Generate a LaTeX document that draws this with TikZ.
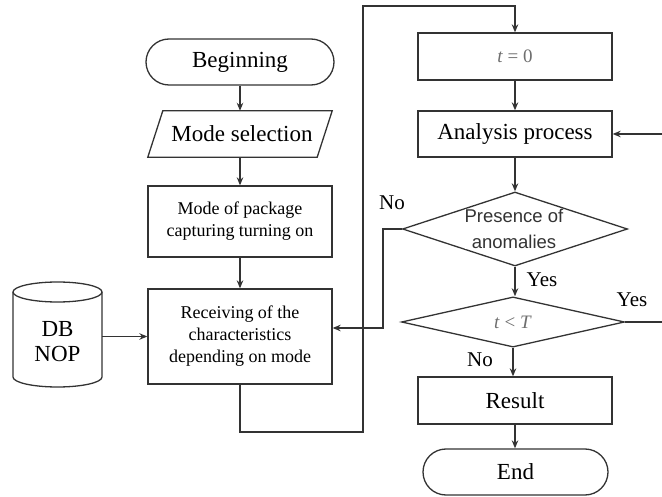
\documentclass[tikz,border=0pt]{standalone}
\usepackage{fontspec}
\setmainfont{Liberation Serif}
\newfontfamily\diafont{Liberation Sans}
\usetikzlibrary{shapes.geometric,arrows.meta}
\definecolor{ln}{HTML}{333333}
\definecolor{gt}{HTML}{6E6E6E}
\begin{document}
\begin{tikzpicture}[x=1pt,y=1pt,
  lw/.style={draw=ln,line width=1.3pt},
  big/.style={font=\fontsize{23}{27}\selectfont},
  small/.style={font=\fontsize{18}{22}\selectfont},
  box/.style={lw,fill=white,align=center,inner sep=0pt},
  term/.style={lw,fill=white,rounded corners=23pt,inner sep=0pt,font=\fontsize{23}{27}\selectfont},
  dia/.style={lw,diamond,fill=white,inner sep=0pt},
  arr/.style={lw,-{Stealth[length=8pt,width=6.5pt]}},
  lbl/.style={font=\fontsize{21}{24}\selectfont,inner sep=0pt}]
\useasboundingbox (0,0) rectangle (662,-497);
\clip (0,0) rectangle (662,-497);
% left column
\node[term,minimum width=188pt,minimum height=46pt] (begin) at (240,-62) {Beginning};
\node[big,minimum width=169pt,minimum height=46pt,inner sep=0pt] (mode) at (242,-134) {Mode selection};
\draw[lw] ([xshift=5.5pt]mode.north west) -- ([xshift=5.5pt]mode.north east)
  -- ([xshift=-9.5pt]mode.south east) -- ([xshift=-9.5pt]mode.south west) -- cycle;
\node[box,small,minimum width=184pt,minimum height=71pt] (pkg) at (240,-221.5) {Mode of package\\capturing turning on};
\node[box,small,minimum width=184pt,minimum height=95pt] (recv) at (240,-336.5) {Receiving of the\\characteristics\\depending on mode};
% database cylinder
\draw[lw] (57.5,-292) ellipse [x radius=44.5pt,y radius=10pt];
\draw[lw] (13,-292) -- (13,-377) arc[start angle=180,end angle=360,x radius=44.5pt,y radius=10pt] -- (102,-292);
\node[font=\fontsize{23}{25}\selectfont,align=center,minimum width=89pt,inner sep=0pt] (db) at (57.5,-342) {DB\\NOP};
% right column
\node[box,minimum width=194pt,minimum height=47pt,font=\fontsize{19}{22}\selectfont,text=gt] (t0) at (515,-56.5) {\textit{t} = 0};
\node[box,big,minimum width=194pt,minimum height=46pt] (anal) at (515,-134) {Analysis process};
\node[dia,minimum width=225pt,minimum height=74pt] (pres) at (515,-229) {};
\node[fill=white,inner sep=0pt,align=center,text=ln,font=\diafont\fontsize{18.5}{26}\selectfont] (prest) at (514,-229) {Presence of\\anomalies};
\node[dia,minimum width=223pt,minimum height=48pt,font=\fontsize{19}{22}\selectfont,text=gt] (tlt) at (513,-322) {\textit{t} {\textless} \textit{T}};
\node[box,big,minimum width=194pt,minimum height=47pt] (res) at (515,-400.5) {Result};
\node[term,minimum width=185pt,minimum height=46pt] (end) at (515.5,-472) {End};
% coordinates
\coordinate (c1) at (363,-432);
\coordinate (c2) at (363,-6);
\coordinate (c3) at (383,-328);
\coordinate (c4) at (680,-322);
% connectors
\draw[arr] (begin.south) -- (begin.south |- mode.north);
\draw[arr] (begin.south |- mode.south) -- (pkg.north);
\draw[arr] (pkg.south) -- (recv.north);
\draw[arr] (db.east |- recv.west) -- (recv.west);
\draw[arr] (recv.south) |- (c1) -- (c2) -| (t0.north);
\draw[arr] (t0.south) -- (anal.north);
\draw[arr] (anal.south) -- (pres.north);
\draw[arr] (pres.west) -| (c3) -- (c3 -| recv.east);
\draw[arr] (pres.south) -- (pres.south |- tlt.north);
\draw[arr] (tlt.south) -- (tlt.south |- res.north);
\draw[arr] (res.south) -- (res.south |- end.north);
\draw[arr] (tlt.east) -- (c4) |- (anal.east);
% labels
\node[lbl] (lno1) at (392,-203) {No};
\node[lbl] (lyes1) at (542,-280) {Yes};
\node[lbl] (lyes2) at (632,-300) {Yes};
\node[lbl] (lno2) at (480,-360) {No};
\end{tikzpicture}
\end{document}
